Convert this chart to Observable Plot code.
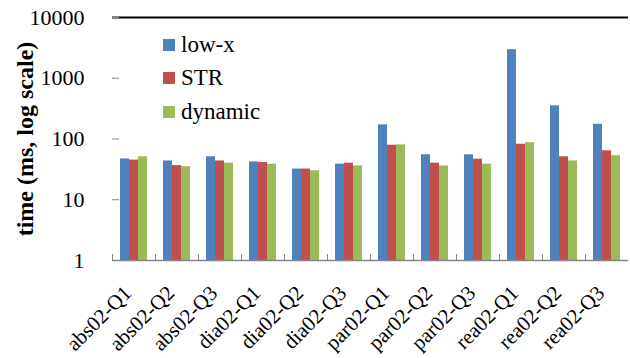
<!DOCTYPE html>
<html><head><meta charset="utf-8">
<script src="https://cdn.jsdelivr.net/npm/d3@7"></script>
<script src="https://cdn.jsdelivr.net/npm/@observablehq/plot@0.6"></script>
<style>
body{margin:0;background:#fff}
#wrap{position:relative;width:630px;height:358px;overflow:hidden;background:#fff}
#legend{position:absolute;left:163px;top:28px}
#legend div:has(> svg){height:33.5px !important;padding:0 !important;display:flex !important;align-items:center}
#legend svg{margin-right:6px !important}
[aria-label="y-axis label"] text{font-weight:bold;font-size:24px}
</style></head><body><div id="wrap"></div>
<script>
const categories = ["abs02-Q1","abs02-Q2","abs02-Q3","dia02-Q1","dia02-Q2","dia02-Q3","par02-Q1","par02-Q2","par02-Q3","rea02-Q1","rea02-Q2","rea02-Q3"];
const series = ["low-x","STR","dynamic"];
const lowX = [47, 43.5, 51, 42, 32, 38.5, 171, 55, 55, 2950, 352, 175];
const str = [45, 36.5, 43.5, 41, 32, 40, 79, 40, 46.5, 82, 51, 64];
const dynamic = [51, 35, 40, 38.5, 30, 36, 80, 36, 38.5, 87, 43.5, 53];
const yTicks = [1, 10, 100, 1000, 10000];
const colors = ["#4F81BD", "#C0504D", "#9BBB59"];
const serif = "'Liberation Serif', 'Times New Roman', serif";

const seriesValues = [lowX, str, dynamic];
const data = categories.flatMap((c, i) => series.map((s, j) => ({category: c, series: s, value: seriesValues[j][i]})));

const chart = Plot.plot({
  width: 630, height: 358,
  marginLeft: 108, marginRight: 0, marginTop: 17, marginBottom: 98,
  style: {fontFamily: serif, fontSize: "22px", color: "#000", background: "#fff"},
  fx: {domain: categories, range: [108, 632], padding: 0},
  x: {domain: series, paddingInner: 0, paddingOuter: 0.75, axis: null},
  y: {type: "log", domain: [1, 10000]},
  color: {domain: series, range: colors},
  marks: [
    Plot.frame({anchor: "left", insetTop: 237, stroke: "#868686"}),
    Plot.barY(data, {fx: "category", x: "series", y1: yTicks[0], y2: "value", fill: "series"}),
    Plot.ruleY([yTicks[0]], {stroke: "#868686", strokeWidth: 1.5}),
    Plot.ruleY([yTicks[yTicks.length - 1]], {stroke: "#000", strokeWidth: 2}),
    Plot.axisY({ticks: yTicks, tickFormat: d3.format("d"), tickSize: -7, tickPadding: 35, stroke: "#868686", line: true, fontSize: 22,
      label: "time (ms, log scale)", labelAnchor: "center", labelOffset: 97, labelArrow: "none"}),
    Plot.axisFx({anchor: "bottom", tickRotate: -45, tickSize: 0, tickPadding: 29, dx: -6, fontSize: 21, label: null})
  ]
});
const wrap = document.getElementById("wrap");
wrap.appendChild(chart);
const legend = Plot.legend({color: {domain: series, range: colors}, columns: 1, swatchSize: 12, className: "lg"});
const lg = document.createElement("div");
lg.id = "legend";
lg.appendChild(legend);
wrap.appendChild(lg);
lg.querySelectorAll("*").forEach(el => {
  el.style.setProperty("font-family", serif, "important");
  el.style.setProperty("font-size", "23px", "important");
  el.style.setProperty("color", "#000", "important");
});
// force a style and layout pass so the serif font is resolved before the picture is taken
const texts = [...chart.querySelectorAll("text")];
const measured = texts.map(t => {
  const b = t.getBoundingClientRect();
  const cs = getComputedStyle(t);
  return `${b.left.toFixed(0)},${b.top.toFixed(0)} ${cs.fontSize} ${cs.fontFamily} ${t.getComputedTextLength().toFixed(1)}`;
});
wrap.dataset.measured = measured.length;
</script></body></html>
